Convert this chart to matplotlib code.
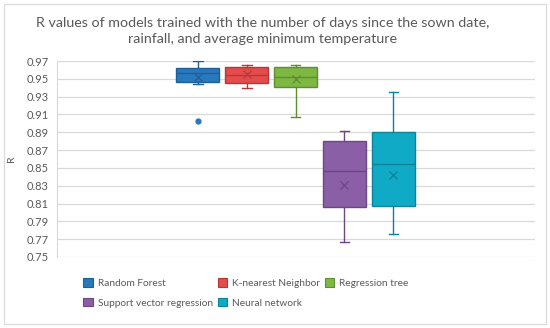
import numpy as np
import matplotlib.pyplot as plt
from matplotlib.patches import Patch, Rectangle

models = ["Random Forest", "K-nearest Neighbor", "Regression tree",
          "Support vector regression", "Neural network"]
whislo = [0.9438, 0.9397, 0.9075, 0.7669, 0.7755]
q1 = [0.9468, 0.9453, 0.9405, 0.8066, 0.8076]
med = [0.9560, 0.9543, 0.9520, 0.8469, 0.8548]
q3 = [0.9625, 0.9633, 0.9633, 0.8802, 0.8903]
whishi = [0.9700, 0.9655, 0.9655, 0.8918, 0.9356]
means = [0.9520, 0.9550, 0.9495, 0.8308, 0.8417]
fliers = [[0.9023], [], [], [], []]
colors = ["#2878BE", "#E44B4B", "#7EB843", "#8B5FA6", "#10AAC6"]
edges = ["#1F5F98", "#B83838", "#5F8E32", "#6C4785", "#0A8499"]
yticks = [0.75, 0.77, 0.79, 0.81, 0.83, 0.85, 0.87, 0.89, 0.91, 0.93, 0.95, 0.97]

plt.rcParams['font.family'] = ['Lato', 'DejaVu Sans']

fig = plt.figure(figsize=(5.5, 3.28), dpi=100)
# light chart-area border
fig.patches.append(Rectangle((0.008, 0.012), 0.984, 0.976, transform=fig.transFigure,
                             facecolor="none", edgecolor="#D9D9D9", lw=0.8, zorder=-10))
ax = fig.add_axes([0.1036, 0.2165, 0.8694, 0.5975])
ax.set_facecolor("none")

pos = np.arange(1, 6)
for i in range(len(models)):
    s = dict(whislo=whislo[i], q1=q1[i], med=med[i], q3=q3[i],
             whishi=whishi[i], mean=means[i], fliers=fliers[i], label=models[i])
    ax.bxp([s], positions=[pos[i]], widths=0.88, patch_artist=True, showmeans=True,
           boxprops=dict(facecolor=colors[i], edgecolor=edges[i], lw=1.0),
           medianprops=dict(color=edges[i], lw=1.0),
           whiskerprops=dict(color=edges[i], lw=1.0),
           capprops=dict(color=edges[i], lw=1.0),
           capwidths=0.2,
           meanprops=dict(marker="x", markeredgecolor=edges[i], markersize=6, mew=0.9),
           flierprops=dict(marker="o", markerfacecolor=colors[i], markeredgecolor=colors[i],
                           markersize=3.5))

ax.set_xlim(-1.878, 7.898)
ax.set_ylim(0.75, 0.97)
ax.set_yticks(yticks)
ax.set_yticklabels([f"{v:.2f}" for v in yticks])
ax.set_xticks([])
ax.yaxis.grid(True, color="#D9D9D9", lw=0.9)
ax.set_axisbelow(True)
for sp in ["top", "right", "bottom"]:
    ax.spines[sp].set_visible(False)
ax.spines["left"].set_color("#D9D9D9")
ax.tick_params(axis="y", length=0, labelsize=8, colors="#595959", pad=6)
ax.set_ylabel("R", fontsize=7.5, color="#595959")
ax.yaxis.set_label_coords(-0.085, 0.5)

fig.text(0.477, 0.905, "R values of models trained with the number of days since the sown date,\n"
         "rainfall, and average minimum temperature", ha="center", va="center",
         fontsize=10.3, color="#595959", linespacing=1.45)

handles = [Patch(facecolor=colors[i], edgecolor=edges[i], lw=0.8) for i in range(5)]
order = [0, 3, 1, 4, 2]
fig.legend([handles[i] for i in order], [models[i] for i in order], ncol=3,
           loc="upper left", bbox_to_anchor=(0.135, 0.18), frameon=False,
           fontsize=7.3, labelcolor="#595959", handlelength=0.9, handleheight=0.9,
           handletextpad=0.5, columnspacing=0.5, labelspacing=1.0)

fig.savefig("out.png", dpi=100)
